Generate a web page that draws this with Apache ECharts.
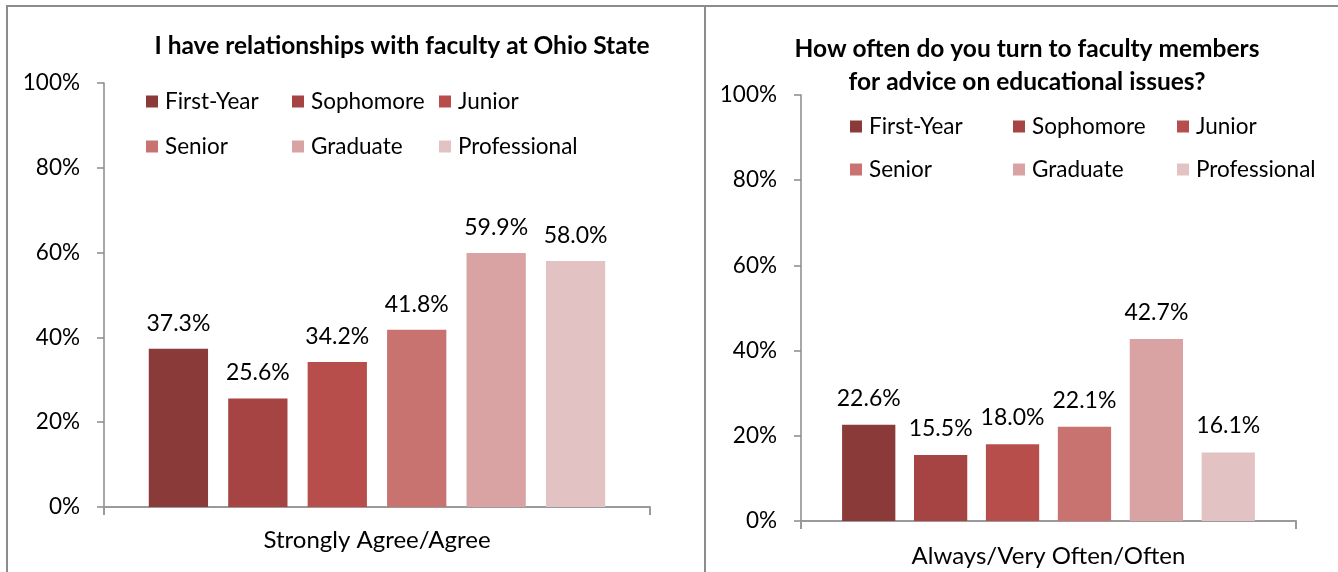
<!DOCTYPE html>
<html>
<head>
<meta charset="utf-8">
<script src="https://cdn.jsdelivr.net/npm/echarts@6/dist/echarts.min.js"></script>
<style>
html,body{margin:0;padding:0;background:#fff;}
#chart{width:1338px;height:572px;}
</style>
</head>
<body>
<div id="chart"></div>
<script>
// ---- data ----
const groups = ['First-Year', 'Sophomore', 'Junior', 'Senior', 'Graduate', 'Professional'];
const leftCategory = ['Strongly Agree/Agree'];
const rightCategory = ['Always/Very Often/Often'];
const leftValues = [37.3, 25.6, 34.2, 41.8, 59.9, 58.0];
const rightValues = [22.6, 15.5, 18.0, 22.1, 42.7, 16.1];
const leftTitle = 'I have relationships with faculty at Ohio State';
const rightTitle = 'How often do you turn to faculty members\nfor advice on educational issues?';

// ---- styles ----
const palette = ['#8B3A3A', '#A54442', '#B84E4B', '#C87370', '#D9A3A3', '#E3C2C4'];
const FONT = 'Lato';

const chart = echarts.init(document.getElementById('chart'), null, {renderer: 'canvas'});

function yAxis(gridIndex) {
  return {
    type: 'value', gridIndex: gridIndex, min: 0, max: 100, interval: 20,
    axisLine: {show: true, lineStyle: {color: '#8a8a8a', width: 1.5}},
    axisTick: {show: true, length: 7, lineStyle: {color: '#8a8a8a', width: 1.5}},
    splitLine: {show: false},
    axisLabel: {formatter: '{value}%', margin: 24, color: '#000', fontFamily: FONT, fontSize: 22.5}
  };
}
function xAxis(gridIndex, cats, margin) {
  return {
    type: 'category', gridIndex: gridIndex, data: cats,
    axisLine: {show: true, lineStyle: {color: '#9a9a9a', width: 2}},
    axisTick: {show: true, length: 8, lineStyle: {color: '#9a9a9a', width: 2}},
    axisLabel: {margin: margin, color: '#000', fontFamily: FONT, fontSize: 24}
  };
}

const labelStyle = {show: true, position: 'top', distance: 14, formatter: p => p.value.toFixed(1) + '%',
                    color: '#000', fontFamily: FONT, fontSize: 23};
const series = [];
groups.forEach((g, i) => {
  series.push({
    name: g, type: 'bar', xAxisIndex: 0, yAxisIndex: 0,
    data: [leftValues[i]],
    barGap: '34%', barCategoryGap: '16.4%',
    itemStyle: {color: palette[i]},
    label: labelStyle
  });
});
groups.forEach((g, i) => {
  series.push({
    name: g, type: 'bar', xAxisIndex: 1, yAxisIndex: 1,
    data: [rightValues[i]],
    barGap: '35%', barCategoryGap: '16.6%',
    itemStyle: {color: palette[i]},
    label: Object.assign({}, labelStyle, {distance: 15})
  });
});

const leftLegendX = [146, 292, 439];
const leftLegendY = [102, 147];
const rightLegendX = [850, 1013, 1177];
const rightLegendY = [127, 170];
const legends = [];
groups.forEach((g, i) => {
  const col = i % 3, row = Math.floor(i / 3);
  [[leftLegendX, leftLegendY], [rightLegendX, rightLegendY]].forEach(([xs, ys]) => {
    legends.push({
      data: [g], left: xs[col], top: ys[row] - 12, padding: 0,
      itemWidth: 12, itemHeight: 12, icon: 'rect', selectedMode: false,
      textStyle: {color: '#000', fontFamily: FONT, fontSize: 22.5, padding: [0, 0, 0, 2]}
    });
  });
});

chart.setOption({
  animation: false,
  backgroundColor: '#fff',
  title: [
    {text: leftTitle, left: 397, top: 29, textAlign: 'center',
     textStyle: {fontFamily: FONT, fontWeight: 'bold', fontSize: 24.5, color: '#000'}},
    {text: rightTitle, left: 1022, top: 28, textAlign: 'center',
     textStyle: {fontFamily: FONT, fontWeight: 'bold', fontSize: 24.5, color: '#000', lineHeight: 33}}
  ],
  legend: legends,
  grid: [
    {left: 104, right: 1338 - 650, top: 83, bottom: 572 - 507},
    {left: 801, right: 1338 - 1296, top: 95, bottom: 572 - 521}
  ],
  xAxis: [xAxis(0, leftCategory, 21), xAxis(1, rightCategory, 23)],
  yAxis: [yAxis(0), yAxis(1)],
  series: series,
  graphic: [
    {type: 'rect', shape: {x: 7, y: 6, width: 698, height: 600}, style: {fill: 'none', stroke: '#8c8c8c', lineWidth: 2}, silent: true, z: 100},
    {type: 'rect', shape: {x: 705, y: 6, width: 700, height: 600}, style: {fill: 'none', stroke: '#8c8c8c', lineWidth: 2}, silent: true, z: 100}
  ]
});
</script>
</body>
</html>
